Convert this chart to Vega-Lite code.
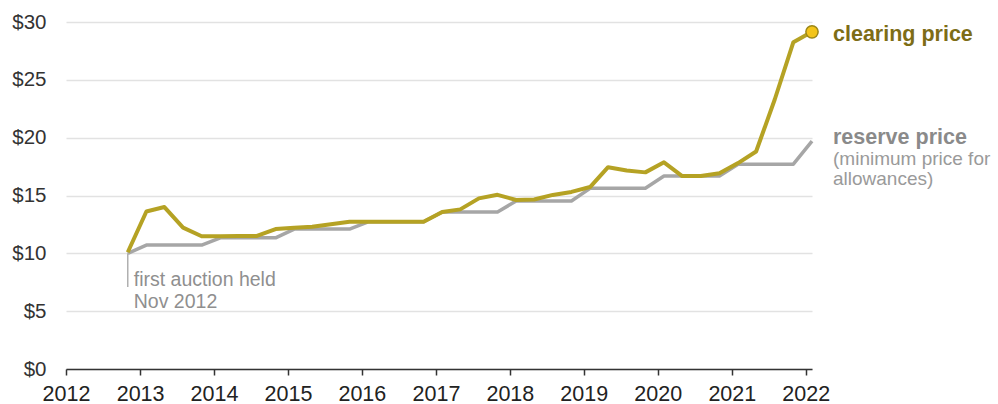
{
  "$schema": "https://vega.github.io/schema/vega-lite/v6.json",
  "width": 746,
  "height": 347,
  "autosize": {"type": "none"},
  "padding": {"left": 66, "top": 22, "right": 186, "bottom": 35},
  "background": "white",
  "config": {
    "view": {"stroke": null},
    "font": "Liberation Sans",
    "axis": {"labelFont": "Liberation Sans", "labelColor": "#333333"}
  },
  "datasets": {
    "prices": [
      {"date": "2012/11/01", "clearing": 10.09, "reserve": 10.00},
      {"date": "2013/02/01", "clearing": 13.62, "reserve": 10.71},
      {"date": "2013/05/01", "clearing": 14.00, "reserve": 10.71},
      {"date": "2013/08/01", "clearing": 12.22, "reserve": 10.71},
      {"date": "2013/11/01", "clearing": 11.48, "reserve": 10.71},
      {"date": "2014/02/01", "clearing": 11.48, "reserve": 11.34},
      {"date": "2014/05/01", "clearing": 11.50, "reserve": 11.34},
      {"date": "2014/08/01", "clearing": 11.50, "reserve": 11.34},
      {"date": "2014/11/01", "clearing": 12.10, "reserve": 11.34},
      {"date": "2015/02/01", "clearing": 12.21, "reserve": 12.10},
      {"date": "2015/05/01", "clearing": 12.29, "reserve": 12.10},
      {"date": "2015/08/01", "clearing": 12.52, "reserve": 12.10},
      {"date": "2015/11/01", "clearing": 12.73, "reserve": 12.10},
      {"date": "2016/02/01", "clearing": 12.73, "reserve": 12.73},
      {"date": "2016/05/01", "clearing": 12.73, "reserve": 12.73},
      {"date": "2016/08/01", "clearing": 12.73, "reserve": 12.73},
      {"date": "2016/11/01", "clearing": 12.73, "reserve": 12.73},
      {"date": "2017/02/01", "clearing": 13.57, "reserve": 13.57},
      {"date": "2017/05/01", "clearing": 13.80, "reserve": 13.57},
      {"date": "2017/08/01", "clearing": 14.75, "reserve": 13.57},
      {"date": "2017/11/01", "clearing": 15.06, "reserve": 13.57},
      {"date": "2018/02/01", "clearing": 14.61, "reserve": 14.53},
      {"date": "2018/05/01", "clearing": 14.65, "reserve": 14.53},
      {"date": "2018/08/01", "clearing": 15.05, "reserve": 14.53},
      {"date": "2018/11/01", "clearing": 15.31, "reserve": 14.53},
      {"date": "2019/02/01", "clearing": 15.73, "reserve": 15.62},
      {"date": "2019/05/01", "clearing": 17.45, "reserve": 15.62},
      {"date": "2019/08/01", "clearing": 17.16, "reserve": 15.62},
      {"date": "2019/11/01", "clearing": 17.00, "reserve": 15.62},
      {"date": "2020/02/01", "clearing": 17.87, "reserve": 16.68},
      {"date": "2020/05/01", "clearing": 16.68, "reserve": 16.68},
      {"date": "2020/08/01", "clearing": 16.68, "reserve": 16.68},
      {"date": "2020/11/01", "clearing": 16.92, "reserve": 16.68},
      {"date": "2021/02/01", "clearing": 17.80, "reserve": 17.71},
      {"date": "2021/05/01", "clearing": 18.80, "reserve": 17.71},
      {"date": "2021/08/01", "clearing": 23.30, "reserve": 17.71},
      {"date": "2021/11/01", "clearing": 28.26, "reserve": 17.71},
      {"date": "2022/02/01", "clearing": 29.15, "reserve": 19.70}
    ],
    "firstAuction": [
      {"date": "2012/11/01", "top": 10, "bottom": 7.1}
    ],
    "annotation": [
      {"date": "2012/11/01", "value": 7.7, "text": "first auction held"},
      {"date": "2012/11/01", "value": 5.8, "text": "Nov 2012"}
    ],
    "clearingLabel": [
      {"date": "2022/02/01", "value": 29.15, "text": "clearing price"}
    ],
    "reserveLabel": [
      {"date": "2022/02/01", "value": 20.0, "text": "reserve price"}
    ],
    "reserveNote": [
      {"date": "2022/02/01", "value": 18.15, "text": "(minimum price for"},
      {"date": "2022/02/01", "value": 16.4, "text": "allowances)"}
    ]
  },
  "encoding": {
    "x": {
      "field": "date",
      "type": "temporal",
      "scale": {"domain": [{"year": 2012, "month": 1, "date": 1}, {"year": 2022, "month": 2, "date": 1}]},
      "axis": {
        "title": null,
        "format": "%Y",
        "tickCount": {"interval": "year", "step": 1},
        "grid": false,
        "domainColor": "#333333",
        "domainWidth": 1.5,
        "tickColor": "#333333",
        "tickWidth": 1.5,
        "tickSize": 6,
        "labelPadding": 8,
        "labelFontSize": 21.5,
        "labelOverlap": false,
        "labelFlush": false,
        "labelColor": "#222222"
      }
    }
  },
  "layer": [
    {
      "data": {"name": "prices"},
      "mark": {"type": "line", "stroke": "#a6a6a6", "strokeWidth": 3.5, "strokeJoin": "round"},
      "encoding": {
        "y": {
          "field": "reserve",
          "type": "quantitative",
          "scale": {"domain": [0, 30], "nice": false},
          "axis": {
            "title": null,
            "values": [0, 5, 10, 15, 20, 25, 30],
            "labelExpr": "'$' + datum.value",
            "labelFontSize": 20.5,
            "grid": true,
            "gridColor": "#e2e2e2",
            "gridWidth": 1.5,
            "domain": false,
            "ticks": false,
            "labelPadding": 20
          }
        }
      }
    },
    {
      "data": {"name": "firstAuction"},
      "mark": {"type": "rule", "stroke": "#b0b0b0", "strokeWidth": 1.5},
      "encoding": {
        "y": {"field": "top", "type": "quantitative"},
        "y2": {"field": "bottom"}
      }
    },
    {
      "data": {"name": "prices"},
      "mark": {"type": "line", "stroke": "#b5a224", "strokeWidth": 4, "strokeJoin": "round"},
      "encoding": {
        "y": {"field": "clearing", "type": "quantitative"}
      }
    },
    {
      "data": {"name": "clearingLabel"},
      "mark": {"type": "point", "shape": "circle", "filled": true, "size": 150, "fill": "#f3c419", "stroke": "#9c8718", "strokeWidth": 1.5, "opacity": 1},
      "encoding": {
        "y": {"field": "value", "type": "quantitative"}
      }
    },
    {
      "data": {"name": "clearingLabel"},
      "mark": {"type": "text", "align": "left", "baseline": "middle", "dx": 21, "dy": 3, "fontSize": 21.5, "fontWeight": "bold", "fill": "#7d6d16"},
      "encoding": {
        "y": {"field": "value", "type": "quantitative"},
        "text": {"field": "text"}
      }
    },
    {
      "data": {"name": "reserveLabel"},
      "mark": {"type": "text", "align": "left", "baseline": "middle", "dx": 21, "fontSize": 21.5, "fontWeight": "bold", "fill": "#8a8a8a"},
      "encoding": {
        "y": {"field": "value", "type": "quantitative"},
        "text": {"field": "text"}
      }
    },
    {
      "data": {"name": "reserveNote"},
      "mark": {"type": "text", "align": "left", "baseline": "middle", "dx": 21, "fontSize": 19, "fill": "#9a9a9a"},
      "encoding": {
        "y": {"field": "value", "type": "quantitative"},
        "text": {"field": "text"}
      }
    },
    {
      "data": {"name": "annotation"},
      "mark": {"type": "text", "align": "left", "baseline": "middle", "dx": 6, "fontSize": 19.5, "fill": "#8f8f8f"},
      "encoding": {
        "y": {"field": "value", "type": "quantitative"},
        "text": {"field": "text"}
      }
    }
  ]
}
